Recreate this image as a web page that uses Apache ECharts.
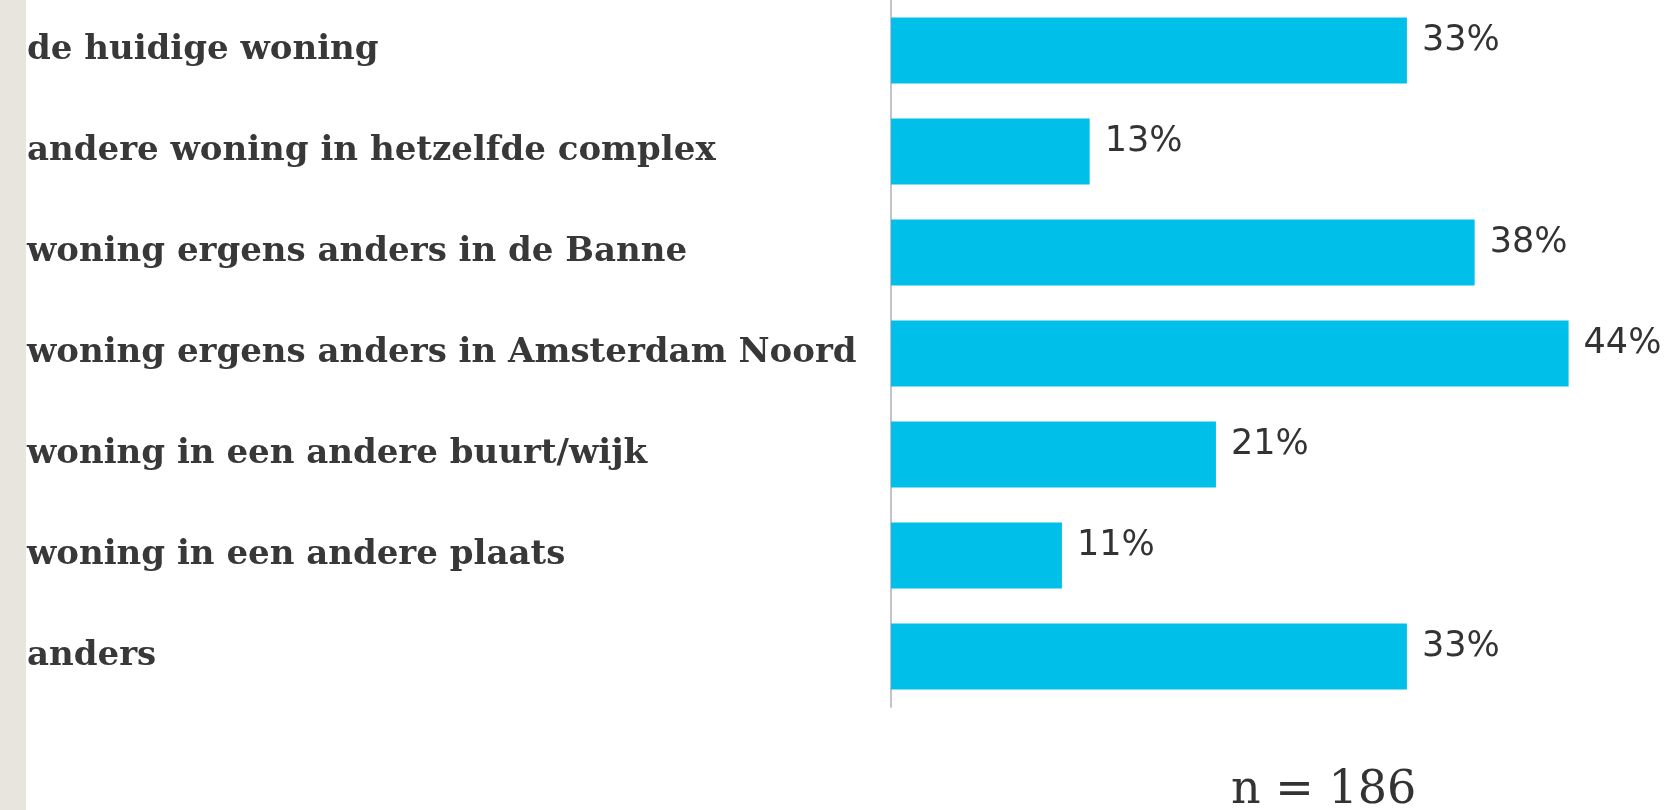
<!DOCTYPE html>
<html>
<head>
<meta charset="utf-8">
<script src="https://cdn.jsdelivr.net/npm/echarts@6/dist/echarts.min.js"></script>
<style>
  html, body { margin: 0; padding: 0; background: #fff; }
  #chart { width: 1671px; height: 810px; }
</style>
</head>
<body>
<div id="chart"></div>
<script>
const categories = [
  'de huidige woning',
  'andere woning in hetzelfde complex',
  'woning ergens anders in de Banne',
  'woning ergens anders in Amsterdam Noord',
  'woning in een andere buurt/wijk',
  'woning in een andere plaats',
  'anders'
];
const values = [33.5, 12.9, 37.9, 44, 21.1, 11.1, 33.5];
const valueLabels = ['33%', '13%', '38%', '44%', '21%', '11%', '33%'];
const sampleNote = 'n = 186';

const chart = echarts.init(document.getElementById('chart'));

chart.setOption({
  animation: false,
  graphic: [
    {
      type: 'rect',
      shape: { x: 0, y: 0, width: 26, height: 810 },
      style: { fill: '#e8e4de' }
    }
  ],
  title: {
    text: sampleNote,
    left: 1226,
    top: 763,
    textStyle: {
      fontFamily: 'DejaVu Serif',
      fontWeight: 'normal',
      fontSize: 46,
      color: '#333'
    }
  },
  grid: { left: 891, top: 0, width: 770, height: 707 },
  xAxis: {
    type: 'value',
    min: 0,
    max: 50,
    show: false
  },
  yAxis: {
    type: 'category',
    data: categories,
    inverse: true,
    axisLine: { show: true, lineStyle: { color: '#c4c2cc', width: 2 } },
    axisTick: { show: false },
    axisLabel: {
      align: 'left',
      margin: 864,
      padding: [4, 0, 0, 0],
      fontFamily: 'DejaVu Serif',
      fontWeight: 'bold',
      fontSize: 34,
      color: '#383838'
    }
  },
  series: [
    {
      type: 'bar',
      data: values,
      barWidth: 66,
      itemStyle: { color: '#00bfe8' },
      label: {
        show: true,
        position: 'right',
        distance: 15,
        offset: [0, -10],
        formatter: p => valueLabels[p.dataIndex],
        fontFamily: 'DejaVu Sans',
        fontSize: 35,
        color: '#333'
      }
    }
  ]
});
</script>
</body>
</html>
